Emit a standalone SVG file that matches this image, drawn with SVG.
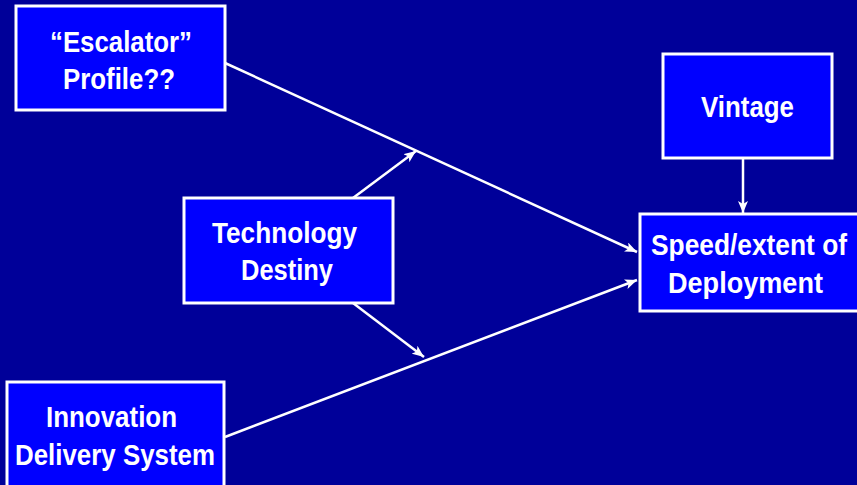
<svg xmlns="http://www.w3.org/2000/svg" width="857" height="485" viewBox="0 0 857 485">
<defs>
<style>
.box{fill:#0000FF;stroke:#FFFFFF;stroke-width:3}
.lbl{fill:#FFFFFF;font-family:"Liberation Sans",Arial,sans-serif;font-weight:bold;font-size:30px;text-anchor:middle}
.conn{stroke:#FFFFFF;stroke-width:2.5;fill:none}
</style>
<marker id="ah" markerUnits="userSpaceOnUse" markerWidth="12" markerHeight="10" viewBox="0 0 12 10" refX="12" refY="5" orient="auto">
<path d="M0,0 L12,5 L0,10 L3,5 Z" fill="#FFFFFF"/>
</marker>
</defs>
<rect width="857" height="485" fill="#000099"/>
<g id="connectors">
<line class="conn" x1="225" y1="63" x2="637" y2="252" marker-end="url(#ah)"/>
<line class="conn" x1="225" y1="437" x2="637" y2="280" marker-end="url(#ah)"/>
<line class="conn" x1="743" y1="158" x2="743" y2="213" marker-end="url(#ah)"/>
<line class="conn" x1="353" y1="198" x2="416" y2="151" marker-end="url(#ah)"/>
<line class="conn" x1="353" y1="303" x2="424" y2="357" marker-end="url(#ah)"/>
</g>
<g id="escalator">
<rect class="box" x="16" y="6" width="209" height="104"/>
<text class="lbl" x="121" y="52" textLength="142" lengthAdjust="spacingAndGlyphs">“Escalator”</text>
<text class="lbl" x="119" y="89" textLength="112" lengthAdjust="spacingAndGlyphs">Profile??</text>
</g>
<g id="vintage">
<rect class="box" x="663" y="54" width="169" height="104"/>
<text class="lbl" x="747.5" y="117" textLength="93" lengthAdjust="spacingAndGlyphs">Vintage</text>
</g>
<g id="speed">
<rect class="box" x="640" y="214" width="219" height="97"/>
<text class="lbl" x="749" y="255" textLength="196" lengthAdjust="spacingAndGlyphs">Speed/extent of</text>
<text class="lbl" x="745.5" y="293" textLength="155" lengthAdjust="spacingAndGlyphs">Deployment</text>
</g>
<g id="technology">
<rect class="box" x="184" y="198" width="209" height="105"/>
<text class="lbl" x="284.5" y="243" textLength="145" lengthAdjust="spacingAndGlyphs">Technology</text>
<text class="lbl" x="287" y="280" textLength="92" lengthAdjust="spacingAndGlyphs">Destiny</text>
</g>
<g id="innovation">
<rect class="box" x="7" y="382" width="217" height="110"/>
<text class="lbl" x="111.5" y="427" textLength="131" lengthAdjust="spacingAndGlyphs">Innovation</text>
<text class="lbl" x="115" y="465" textLength="200" lengthAdjust="spacingAndGlyphs">Delivery System</text>
</g>
</svg>
